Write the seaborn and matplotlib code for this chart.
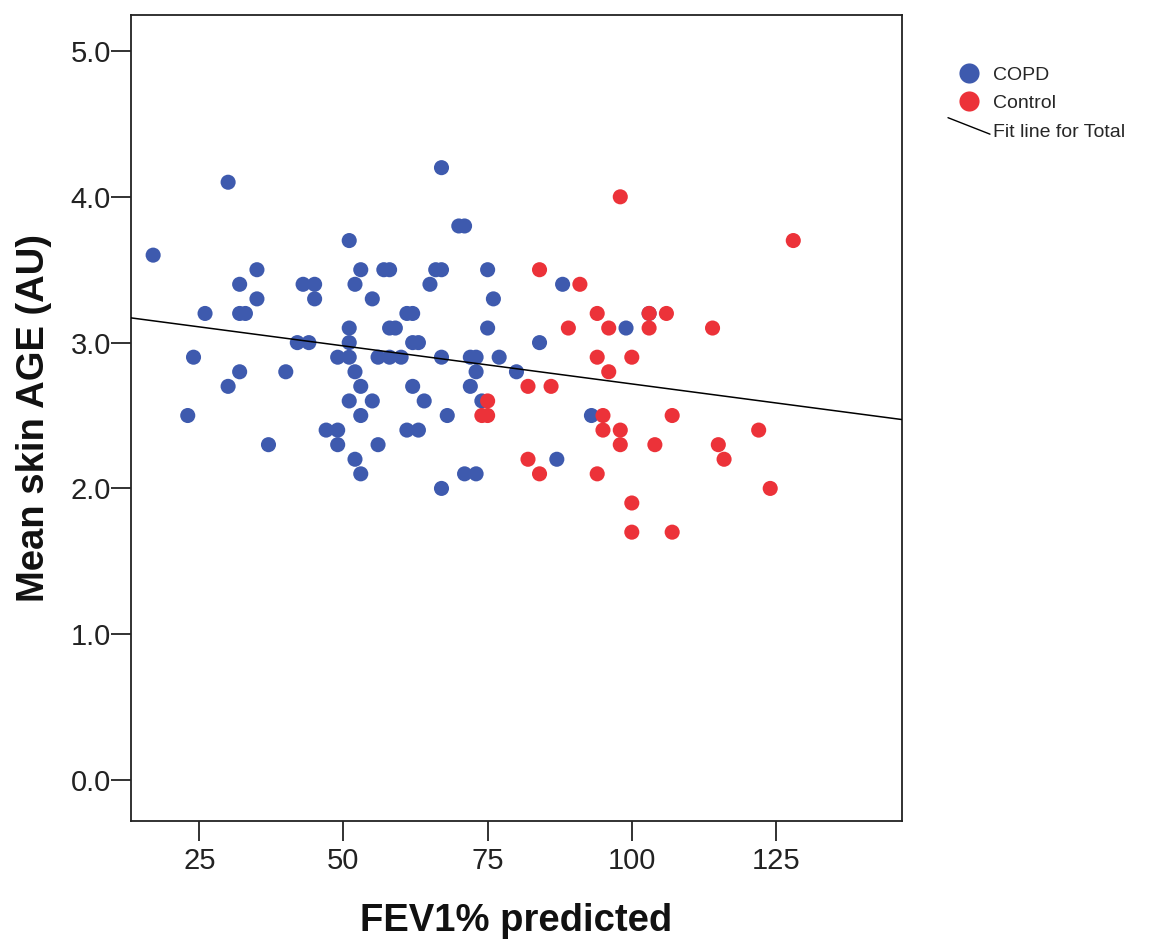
import matplotlib
matplotlib.use("Agg")
import matplotlib.pyplot as plt
import numpy as np
import pandas as pd
import seaborn as sns
from matplotlib.lines import Line2D
from matplotlib.legend_handler import HandlerBase

# FEV1 % predicted and mean skin AGE (AU) per participant
copd_fev1 = [17, 23, 24, 26, 30, 30, 32, 32, 33, 32, 35, 35, 37, 40, 42, 43, 44, 45, 45,
             47, 49, 49, 49, 51, 51, 51, 51, 51, 52, 52, 52, 53, 53, 53, 53, 55, 55, 56,
             56, 57, 58, 58, 59, 58, 60, 61, 62, 62, 63, 62, 61, 63, 64, 65, 66, 67, 67,
             67, 67, 68, 70, 71, 71, 72, 73, 73, 72, 73, 74, 75, 75, 76, 77, 80, 84, 87,
             88, 93, 99, 103]
copd_age = [3.6, 2.5, 2.9, 3.2, 4.1, 2.7, 3.4, 3.2, 3.2, 2.8, 3.5, 3.3, 2.3, 2.8, 3.0, 3.4,
            3.0, 3.4, 3.3, 2.4, 2.9, 2.4, 2.3, 3.7, 3.1, 3.0, 2.9, 2.6, 3.4, 2.8, 2.2, 3.5,
            2.7, 2.5, 2.1, 3.3, 2.6, 2.9, 2.3, 3.5, 3.5, 3.1, 3.1, 2.9, 2.9, 3.2, 3.2, 3.0,
            3.0, 2.7, 2.4, 2.4, 2.6, 3.4, 3.5, 3.5, 4.2, 2.9, 2.0, 2.5, 3.8, 3.8, 2.1, 2.9,
            2.9, 2.8, 2.7, 2.1, 2.6, 3.5, 3.1, 3.3, 2.9, 2.8, 3.0, 2.2, 3.4, 2.5, 3.1, 3.2]

control_fev1 = [74, 75, 75, 82, 82, 84, 84, 86, 89, 91, 94, 94, 94, 95, 95, 96, 96, 98, 98,
                98, 100, 100, 100, 103, 103, 104, 106, 107, 107, 114, 115, 116, 122, 124, 128]
control_age = [2.5, 2.5, 2.6, 2.7, 2.2, 3.5, 2.1, 2.7, 3.1, 3.4, 3.2, 2.9, 2.1, 2.5, 2.4,
               3.1, 2.8, 4.0, 2.4, 2.3, 2.9, 1.9, 1.7, 3.2, 3.1, 2.3, 3.2, 2.5, 1.7, 3.1,
               2.3, 2.2, 2.4, 2.0, 3.7]

groups = ["COPD", "Control"]
group_colors = {"COPD": "#3E5AAE", "Control": "#EC3239"}

df = pd.DataFrame({
    "FEV1% predicted": copd_fev1 + control_fev1,
    "Mean skin AGE (AU)": copd_age + control_age,
    "Group": ["COPD"] * len(copd_fev1) + ["Control"] * len(control_fev1),
})

sns.set_theme(style="white")
plt.rcParams["font.family"] = ["Liberation Sans", "DejaVu Sans"]

W, H = 1157, 944
fig = plt.figure(figsize=(W / 100, H / 100), dpi=100)
ax = fig.add_axes([131 / W, 1 - 820.7 / H, (901.7 - 131) / W, (820.7 - 15) / H])

ax.set_xlim(13.16, 146.8)
ax.set_ylim(-0.279, 5.247)

sns.scatterplot(data=df, x="FEV1% predicted", y="Mean skin AGE (AU)", hue="Group",
                hue_order=groups, palette=group_colors, s=118, linewidth=0,
                alpha=1, legend=False, ax=ax, zorder=3)

# Linear fit over all participants, spanning the full axis range
sns.regplot(data=df, x="FEV1% predicted", y="Mean skin AGE (AU)", scatter=False,
            ci=None, truncate=False, ax=ax,
            line_kws={"color": "black", "linewidth": 1.1, "zorder": 4})

ax.set_xlim(13.16, 146.8)
ax.set_ylim(-0.279, 5.247)

ax.set_xticks([25, 50, 75, 100, 125])
ax.set_yticks([0, 1, 2, 3, 4, 5])
ax.set_yticklabels([f"{v:.1f}" for v in [0, 1, 2, 3, 4, 5]])

for sp in ax.spines.values():
    sp.set_color("#222222")
    sp.set_linewidth(1.3)
ax.tick_params(axis="both", direction="out", length=14.5, width=1.3, color="#222222",
               labelsize=21, labelcolor="#222222", bottom=True, left=True)
ax.tick_params(axis="x", pad=4.5)
ax.tick_params(axis="y", pad=0)

ax.set_xlabel("FEV1% predicted", fontsize=27.5, fontweight="bold", labelpad=20, color="#111111")
ax.set_ylabel("Mean skin AGE (AU)", fontsize=27.5, fontweight="bold", labelpad=13, color="#111111")


class DiagonalLineHandler(HandlerBase):
    def create_artists(self, legend, orig_handle, xdescent, ydescent, width, height,
                       fontsize, trans):
        line = Line2D([-xdescent, width - xdescent],
                      [height * 1.39 - ydescent, height * 0.18 - ydescent],
                      color="black", linewidth=1.0)
        line.set_transform(trans)
        return [line]


handles = [
    Line2D([], [], linestyle="none", marker="o", markersize=14.5,
           markerfacecolor=group_colors["COPD"], markeredgewidth=0),
    Line2D([], [], linestyle="none", marker="o", markersize=14.5,
           markerfacecolor=group_colors["Control"], markeredgewidth=0),
    Line2D([], [], color="black"),
]
labels = ["COPD", "Control", "Fit line for Total"]
fig.legend(handles, labels, loc="upper left", bbox_to_anchor=(948 / W, 1 - 66 / H),
           frameon=False, fontsize=14, handlelength=2.16, handletextpad=0.15,
           labelspacing=0.56, borderpad=0, borderaxespad=0,
           handler_map={handles[2]: DiagonalLineHandler()})

fig.savefig("out.png", dpi=100)
